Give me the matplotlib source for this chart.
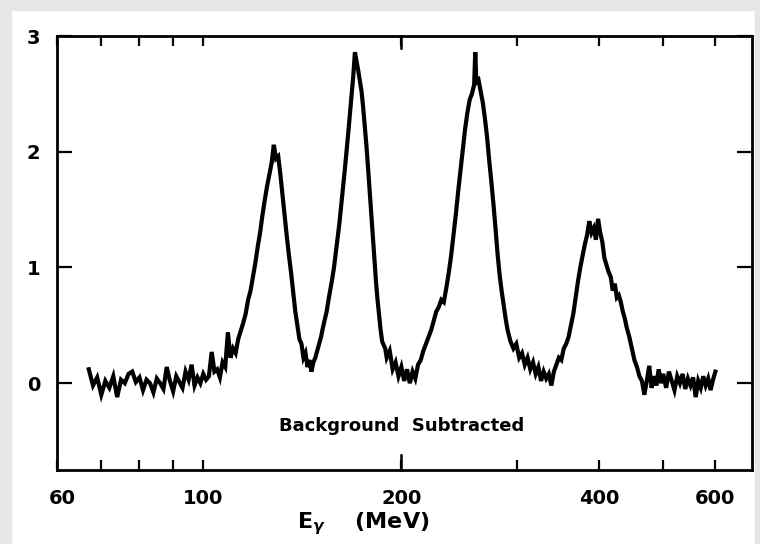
import matplotlib
matplotlib.use('Agg')
import matplotlib.pyplot as plt
import matplotlib.transforms as mtransforms
from matplotlib.patches import Rectangle
from matplotlib.ticker import FixedLocator, NullFormatter

# photon energy (MeV) and background-subtracted counts
energy = [67, 68, 69, 70, 71, 72, 73, 74, 75, 76, 77, 78, 79, 80, 81, 82, 83, 84, 85, 86,
          87, 88, 89, 90, 91, 92, 93, 94, 95, 96, 97, 98, 99, 100, 101, 102, 103, 104, 105, 106,
          107, 108, 109, 110, 111, 112, 113, 114, 115, 116, 117, 118, 119, 120, 121, 122, 123, 124, 125, 126,
          127, 128, 129, 130, 131, 132, 133, 134, 135, 136, 137, 138, 139, 140, 141, 142, 143, 144, 145, 146,
          147, 148, 149, 150, 151, 152, 154, 155, 157, 158, 160, 161, 163, 164, 166, 167, 169, 170, 171, 172,
          174, 175, 177, 178, 180, 181, 183, 184, 186, 187, 189, 190, 192, 194, 196, 198, 200, 202, 204, 206,
          208, 210, 212, 214, 216, 218, 220, 222, 224, 226, 228, 230, 232, 234, 236, 238, 240, 242, 244, 246,
          248, 250, 252, 254, 256, 258, 259, 260, 262, 264, 266, 268, 270, 272, 274, 276, 278, 280, 282, 284,
          286, 288, 290, 293, 296, 299, 302, 305, 308, 311, 314, 317, 320, 323, 326, 329, 332, 335, 338, 341,
          344, 347, 350, 353, 356, 359, 362, 365, 368, 371, 374, 377, 380, 383, 386, 389, 392, 395, 398, 401,
          404, 407, 410, 413, 416, 419, 422, 425, 428, 431, 434, 437, 440, 444, 448, 452, 456, 460, 464, 468,
          472, 476, 480, 484, 488, 492, 496, 500, 505, 510, 515, 520, 525, 530, 535, 540, 545, 550, 555, 560,
          565, 570, 575, 580, 585, 590, 595, 600]
counts = [0.12, -0.02, 0.05, -0.10, 0.02, -0.04, 0.06, -0.12, 0.03, 0.00, 0.08, 0.10, 0.01, 0.05, -0.06, 0.03, 0.00, -0.08, 0.04, 0.00,
          -0.05, 0.14, 0.02, -0.07, 0.06, 0.01, -0.04, 0.10, 0.03, 0.16, -0.02, 0.05, 0.00, 0.08, 0.03, 0.06, 0.27, 0.10, 0.12, 0.05,
          0.18, 0.14, 0.44, 0.22, 0.30, 0.26, 0.38, 0.45, 0.52, 0.60, 0.72, 0.80, 0.92, 1.04, 1.18, 1.30, 1.45, 1.58, 1.70, 1.80,
          1.90, 2.06, 1.94, 1.96, 1.80, 1.62, 1.44, 1.26, 1.10, 0.95, 0.78, 0.62, 0.50, 0.38, 0.34, 0.22, 0.26, 0.14, 0.20, 0.10,
          0.18, 0.22, 0.28, 0.34, 0.40, 0.48, 0.62, 0.72, 0.90, 1.00, 1.25, 1.38, 1.68, 1.83, 2.15, 2.32, 2.65, 2.86, 2.78, 2.70,
          2.52, 2.38, 2.05, 1.86, 1.46, 1.26, 0.88, 0.72, 0.46, 0.36, 0.30, 0.22, 0.28, 0.12, 0.18, 0.06, 0.14, 0.02, 0.12, 0.00,
          0.10, 0.04, 0.16, 0.20, 0.28, 0.34, 0.40, 0.46, 0.54, 0.62, 0.66, 0.72, 0.70, 0.82, 0.95, 1.10, 1.28, 1.46, 1.66, 1.84,
          2.02, 2.20, 2.34, 2.45, 2.50, 2.58, 2.86, 2.60, 2.62, 2.52, 2.42, 2.28, 2.12, 1.92, 1.74, 1.55, 1.34, 1.12, 0.94, 0.80,
          0.68, 0.56, 0.46, 0.36, 0.30, 0.34, 0.22, 0.26, 0.16, 0.22, 0.12, 0.18, 0.08, 0.14, 0.02, 0.10, 0.04, 0.08, -0.02, 0.10,
          0.16, 0.22, 0.20, 0.30, 0.34, 0.40, 0.50, 0.60, 0.74, 0.88, 1.00, 1.10, 1.20, 1.28, 1.40, 1.30, 1.34, 1.24, 1.42, 1.30,
          1.22, 1.08, 1.02, 0.96, 0.92, 0.80, 0.86, 0.74, 0.76, 0.70, 0.62, 0.56, 0.48, 0.40, 0.30, 0.20, 0.14, 0.06, 0.02, -0.10,
          0.02, 0.15, -0.04, 0.06, -0.02, 0.12, 0.00, 0.08, -0.04, 0.10, 0.02, -0.06, 0.06, 0.00, 0.08, -0.05, 0.04, -0.02, 0.05, -0.12,
          0.02, -0.04, 0.06, -0.02, 0.04, -0.06, 0.03, 0.10]

xtick_vals = [60, 100, 200, 400, 600]
xtick_labels = ['60', '100', '200', '400', '600']
xminor_vals = [70, 80, 90, 300, 500]
ytick_vals = [0, 1, 2, 3]
ytick_labels = ['0', '1', '2', '3']

plt.rcParams['font.family'] = 'DejaVu Sans'
plt.rcParams['font.weight'] = 'bold'
plt.rcParams['mathtext.fontset'] = 'dejavusans'

fig = plt.figure(figsize=(7.6, 5.44), dpi=100)
fig.patch.set_facecolor('white')

# grey scan borders
grey = '#e6e6e6'
fig.patches.append(Rectangle((0, 0), 11 / 760, 1, transform=fig.transFigure, color=grey, zorder=0))
fig.patches.append(Rectangle((0, 1 - 10 / 544), 1, 10 / 544, transform=fig.transFigure, color=grey, zorder=0))
fig.patches.append(Rectangle((1 - 5 / 760, 0), 5 / 760, 1, transform=fig.transFigure, color=grey, zorder=0))

ax = fig.add_axes([57 / 760, 1 - 470 / 544, (752 - 57) / 760, (470 - 36) / 544])
ax.plot(energy, counts, color='black', lw=3.0, solid_joinstyle='miter')

ax.set_xscale('log')
ax.set_xlim(59.95, 682)
ax.set_ylim(-0.75, 3.0)

ax.xaxis.set_major_locator(FixedLocator(xtick_vals))
ax.set_xticklabels(xtick_labels)
ax.xaxis.set_minor_locator(FixedLocator(xminor_vals))
ax.xaxis.set_minor_formatter(NullFormatter())
ax.set_yticks(ytick_vals)
ax.set_yticklabels(ytick_labels)

ax.tick_params(axis='x', which='both', direction='in', length=7, width=1.6,
               top=True, bottom=True, pad=14, labelsize=14)
ax.tick_params(axis='y', direction='in', length=11, width=1.6,
               left=True, right=True, pad=12, labelsize=14)
for lab in ax.get_xticklabels() + ax.get_yticklabels():
    lab.set_fontweight('bold')

# the "60" label sits a little inside the frame in the original
lab60 = ax.get_xticklabels()[0]
lab60.set_transform(lab60.get_transform() + mtransforms.ScaledTranslation(5 / 100, 0, fig.dpi_scale_trans))

# longer tick at 200 MeV on both edges
trans = mtransforms.blended_transform_factory(ax.transData, ax.transAxes)
ax.plot([200, 200], [0, 0.035], color='black', lw=1.8, transform=trans, clip_on=False)
ax.plot([200, 200], [0.972, 1.0], color='black', lw=1.8, transform=trans, clip_on=False)

for side in ['left', 'bottom', 'top', 'right']:
    ax.spines[side].set_linewidth(2.0)

ax.text(200, -0.37, 'Background  Subtracted', ha='center', va='center',
        fontsize=13, fontweight='bold')

fig.text(0.478, 0.038, r'E$_{\gamma}$    (MeV)', ha='center', va='center',
         fontsize=16, fontweight='bold')

fig.savefig('out.png', dpi=100)
